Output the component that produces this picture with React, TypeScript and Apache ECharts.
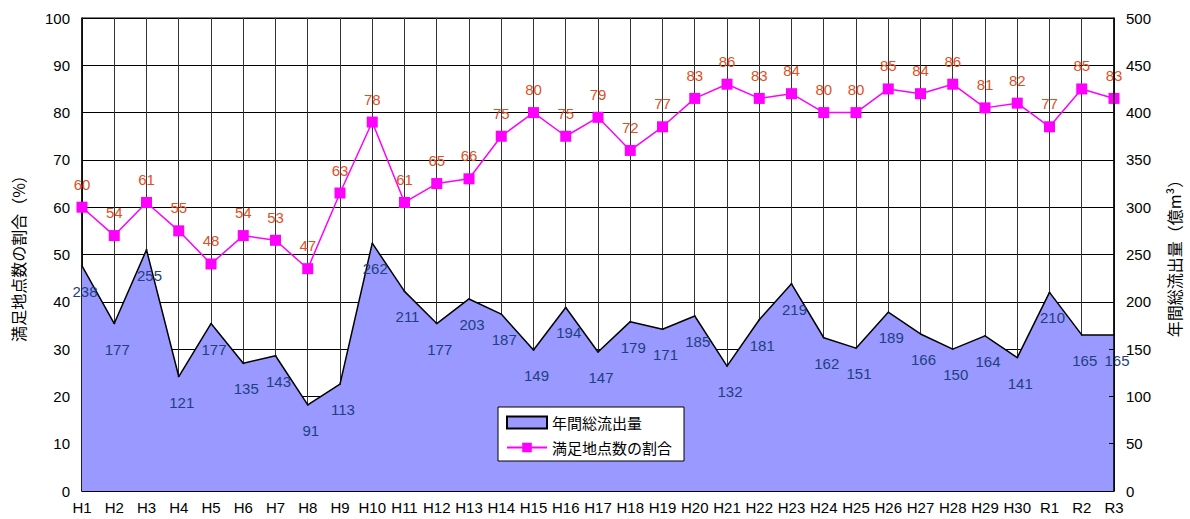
import React, { useEffect, useRef } from "react";
import * as echarts from "echarts";

const categories = ["H1","H2","H3","H4","H5","H6","H7","H8","H9","H10","H11","H12","H13","H14","H15","H16","H17","H18","H19","H20","H21","H22","H23","H24","H25","H26","H27","H28","H29","H30","R1","R2","R3"];
const satisfiedRatio = [60,54,61,55,48,54,53,47,63,78,61,65,66,75,80,75,79,72,77,83,86,83,84,80,80,85,84,86,81,82,77,85,83];
const annualOutflow = [238,177,255,121,177,135,143,91,113,262,211,177,203,187,149,194,147,179,171,185,132,181,219,162,151,189,166,150,164,141,210,165,165];
const leftTicks = { min: 0, max: 100, interval: 10 };
const rightTicks = { min: 0, max: 500, interval: 50 };

const FONT = "'Liberation Sans', 'Noto Sans CJK JP', sans-serif";
const JP = "'Noto Sans CJK JP', sans-serif";

export default function App() {
  const ref = useRef<HTMLDivElement>(null);
  useEffect(() => {
    if (!ref.current) return;
    const chart = echarts.init(ref.current, null, { renderer: "svg" });
    chart.setOption({
      animation: false,
      backgroundColor: "#ffffff",
      textStyle: { fontFamily: FONT },
      grid: { left: 82, right: 74, top: 18, bottom: 28, show: true, borderColor: "#000", borderWidth: 1, backgroundColor: "transparent" },
      legend: {
        orient: "vertical",
        left: 498,
        top: 407,
        backgroundColor: "#fff",
        borderColor: "#000",
        borderWidth: 1,
        borderRadius: 0,
        padding: [8, 12, 6, 8],
        itemGap: 10,
        itemWidth: 40,
        itemHeight: 12,
        textStyle: { fontFamily: JP, fontSize: 15, color: "#000" },
        data: [
          { name: "年間総流出量", icon: "rect", itemStyle: { color: "#9999FF", borderColor: "#000", borderWidth: 2 } },
          { name: "満足地点数の割合" },
        ],
      },
      xAxis: {
        type: "category",
        data: categories,
        boundaryGap: false,
        axisLine: { lineStyle: { color: "#000", width: 1.5 } },
        axisTick: { show: false },
        axisLabel: { color: "#000", fontSize: 15, margin: 9, fontFamily: FONT, interval: 0 },
        splitLine: { show: true, interval: 0, lineStyle: { color: "#333", width: 1 } },
      },
      yAxis: [
        {
          type: "value",
          ...leftTicks,
          position: "left",
          name: "満足地点数の割合（%）",
          nameLocation: "middle",
          nameRotate: 90,
          nameGap: 56,
          nameTextStyle: { fontFamily: JP, fontSize: 16, color: "#000" },
          axisLine: { show: true, lineStyle: { color: "#000", width: 1.5 } },
          axisTick: { show: false },
          axisLabel: { color: "#000", fontSize: 15, margin: 12, fontFamily: FONT },
          splitLine: { show: true, lineStyle: { color: "#000", width: 1 } },
        },
        {
          type: "value",
          ...rightTicks,
          position: "right",
          z: 5,
          name: "年間総流出量（億m³）",
          nameLocation: "middle",
          nameRotate: 90,
          nameGap: 52,
          nameTextStyle: { fontFamily: JP, fontSize: 16, color: "#000" },
          axisLine: { show: true, lineStyle: { color: "#000", width: 1.5 } },
          axisTick: { show: true, inside: true, length: 5, lineStyle: { color: "#000" } },
          axisLabel: { color: "#000", fontSize: 15, margin: 12, fontFamily: FONT },
          splitLine: { show: false },
        },
      ],
      series: [
        {
          name: "年間総流出量",
          type: "line",
          yAxisIndex: 1,
          data: annualOutflow,
          symbol: "circle",
          symbolSize: 1,
          showSymbol: true,
          lineStyle: { color: "#000", width: 1.5 },
          itemStyle: { color: "#9999FF", borderColor: "#000", opacity: 1 },
          areaStyle: { color: "#9999FF", opacity: 1 },
          z: 2,
          label: {
            show: true,
            position: "bottom",
            distance: 17,
            offset: [3, 0],
            color: "#1F3F80",
            fontSize: 15,
            fontFamily: FONT,
          },
        },
        {
          name: "満足地点数の割合",
          type: "line",
          yAxisIndex: 0,
          data: satisfiedRatio,
          symbol: "rect",
          symbolSize: 11,
          lineStyle: { color: "#FF00FF", width: 1.5 },
          itemStyle: { color: "#FF00FF" },
          z: 4,
          label: {
            show: true,
            position: "top",
            distance: 10,
            color: "#E0501E",
            fontSize: 15,
            fontFamily: FONT,
          },
        },
      ],
    });
    return () => chart.dispose();
  }, []);
  return <div ref={ref} style={{ position: "fixed", left: 0, top: 0, width: 1190, height: 519 }} />;
}
